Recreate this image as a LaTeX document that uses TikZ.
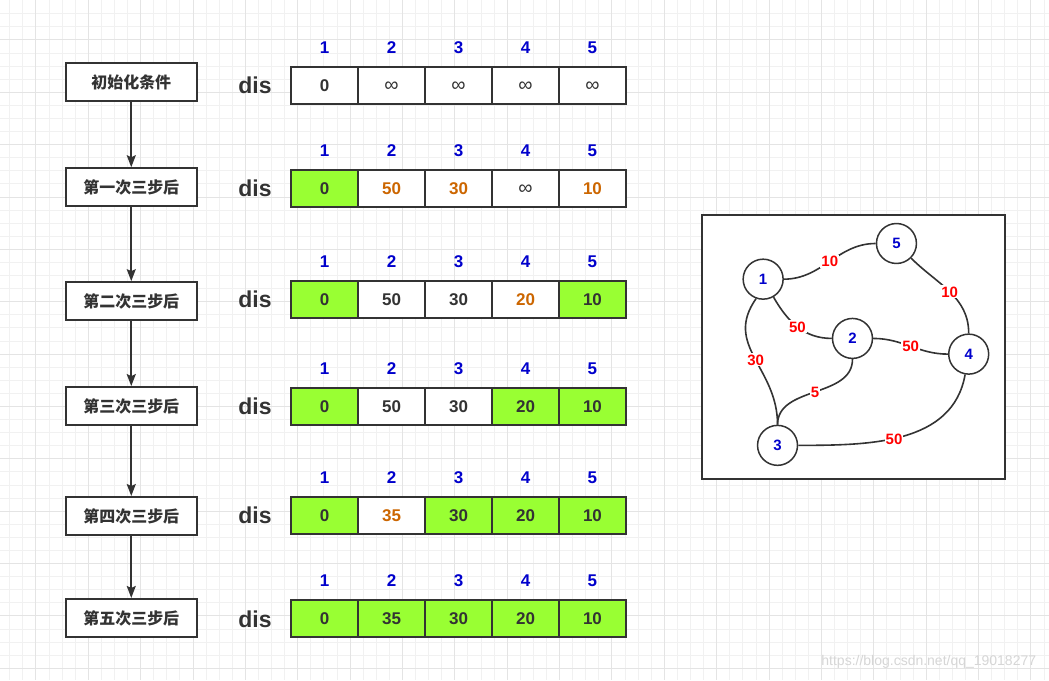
\documentclass[tikz,border=0pt]{standalone}
\usepackage{fontspec}
\setmainfont{Liberation Sans}
\newfontfamily\cjk{Noto Sans CJK SC}
\usetikzlibrary{positioning, arrows.meta}
\definecolor{inkGrey}{HTML}{333333}
\definecolor{gridGrey}{HTML}{F1F1F1}
\definecolor{gridDark}{HTML}{E4E4E4}
\definecolor{doneGreen}{HTML}{99FF33}
\definecolor{updOrange}{HTML}{CC6600}
\definecolor{idxBlue}{HTML}{0000CC}
\definecolor{wtRed}{HTML}{FF0000}
\definecolor{markGrey}{HTML}{D6D6D6}
\newcommand\infsym{{\mdseries\fontsize{20}{20}\selectfont ∞}}
\tikzset{
  stepbox/.style = {draw=inkGrey, line width=2pt, fill=white, minimum width=131pt,
                    minimum height=38pt, text=inkGrey,
                    font=\cjk\bfseries\fontsize{16}{16}\selectfont},
  cell/.style    = {draw=inkGrey, line width=2pt, fill=white, minimum width=67pt,
                    minimum height=37pt, text=inkGrey, text height=12pt, text depth=0pt,
                    font=\bfseries\fontsize{17}{17}\selectfont},
  done/.style    = {fill=doneGreen},
  upd/.style     = {text=updOrange},
  plain/.style   = {},
  idx/.style     = {font=\bfseries\fontsize{17}{17}\selectfont, text=idxBlue,
                    text height=12pt, text depth=0pt},
  dislbl/.style  = {font=\bfseries\fontsize{23}{23}\selectfont, text=inkGrey},
  vtx/.style     = {circle, draw=inkGrey, line width=1.5pt, fill=white, minimum size=40pt,
                    inner sep=0pt, font=\bfseries\fontsize{15}{15}\selectfont, text=idxBlue},
  edge/.style    = {draw=inkGrey, line width=1.6pt},
  wt/.style      = {fill=white, inner sep=1pt, text=wtRed, text height=11pt, text depth=0pt,
                    font=\bfseries\fontsize{15}{15}\selectfont},
  fl/.style      = {-{Stealth[length=12pt, width=9pt, inset=2pt]}, draw=inkGrey, line width=1.8pt},
  gridln/.style  = {draw=gridGrey, line width=0.7pt},
  gridmaj/.style = {draw=gridDark, line width=0.7pt}
}

\begin{document}
\begin{tikzpicture}[x=1pt, y=-1pt, node distance=3pt]
  \fill[white] (0,0) rectangle (1049,680);
  \foreach \i in {0,...,79} \draw[gridln] ({9.3+13.1*\i},0) -- ++(0,680);
  \foreach \j in {1,...,51} \draw[gridln] (0,{0.2+13.1*\j}) -- ++(1049,0);
  \foreach \i in {2,6,...,78} \draw[gridmaj] ({9.3+13.1*\i},0) -- ++(0,680);
  \foreach \j in {3,7,...,51} \draw[gridmaj] (0,{0.2+13.1*\j}) -- ++(1049,0);
  \useasboundingbox (0,0) rectangle (1049,680);

  \foreach \sy/\lab [count=\r] in {82/初始化条件, 187/第一次三步后, 301/第二次三步后,
                                   406/第三次三步后, 516/第四次三步后, 618/第五次三步后}
    \node[stepbox] (s\r) at (131,\sy) {\lab};
  \foreach \r [count=\n from 2] in {1,...,5}
    \draw[fl] (s\r) -- (s\n);

  \foreach \ry/\vals [count=\r] in {
      85/{0/plain, \infsym/plain, \infsym/plain, \infsym/plain, \infsym/plain},
      188/{0/done, 50/upd, 30/upd, \infsym/plain, 10/upd},
      299/{0/done, 50/plain, 30/plain, 20/upd, 10/done},
      406/{0/done, 50/plain, 30/plain, 20/done, 10/done},
      515/{0/done, 35/upd, 30/done, 20/done, 10/done},
      619/{0/done, 35/done, 30/done, 20/done, 10/done}} {
    \foreach \v/\st [count=\c] in \vals {
      \node[cell, \st] (c\r-\c) at ({324.5+67*(\c-1)},\ry) {\v};
      \node[idx, above=9pt of c\r-\c] (i\r-\c) {\c};
    }
    \node[dislbl, left=15pt of c\r-1] (d\r) {dis};
  }

  \node[draw=inkGrey, line width=2pt, fill=white, minimum width=304pt,
        minimum height=264pt] (panel) at (853.7,347.2) {};
  \node[vtx] (n1) at (763.3,279) {1};
  \node[vtx] (n2) at (852.7,338.3) {2};
  \node[vtx] (n3) at (777.7,445.3) {3};
  \node[vtx] (n4) at (969,354) {4};
  \node[vtx] (n5) at (896.7,243.3) {5};

  \draw[edge] (n1.east) to[out=0, in=180] node[wt] {10} (n5.west);
  \draw[edge] (n5.-45) to[out=-45, in=90] node[wt, pos=0.5] {10} (n4.north);
  \draw[edge] (n1.-60) to[out=-60, in=180] node[wt, pos=0.5] {50} (n2.west);
  \draw[edge] (n2.east) to[out=0, in=180] node[wt] {50} (n4.west);
  \draw[edge] (n1.-110) to[out=-125, in=90, looseness=1.15] node[wt, pos=0.52] {30} (n3.north);
  \draw[edge] (n2.south) to[out=-90, in=90] node[wt] {5} (n3.north);
  \draw[edge] (n3.east) to[out=0, in=-100] node[wt, pos=0.45] {50} (n4.-100);

  \node[font=\fontsize{14}{14}\selectfont, text=markGrey, anchor=east] (mark)
    at (1040,662) {https://blog.csdn.net/qq\_19018277};
\end{tikzpicture}
\end{document}
